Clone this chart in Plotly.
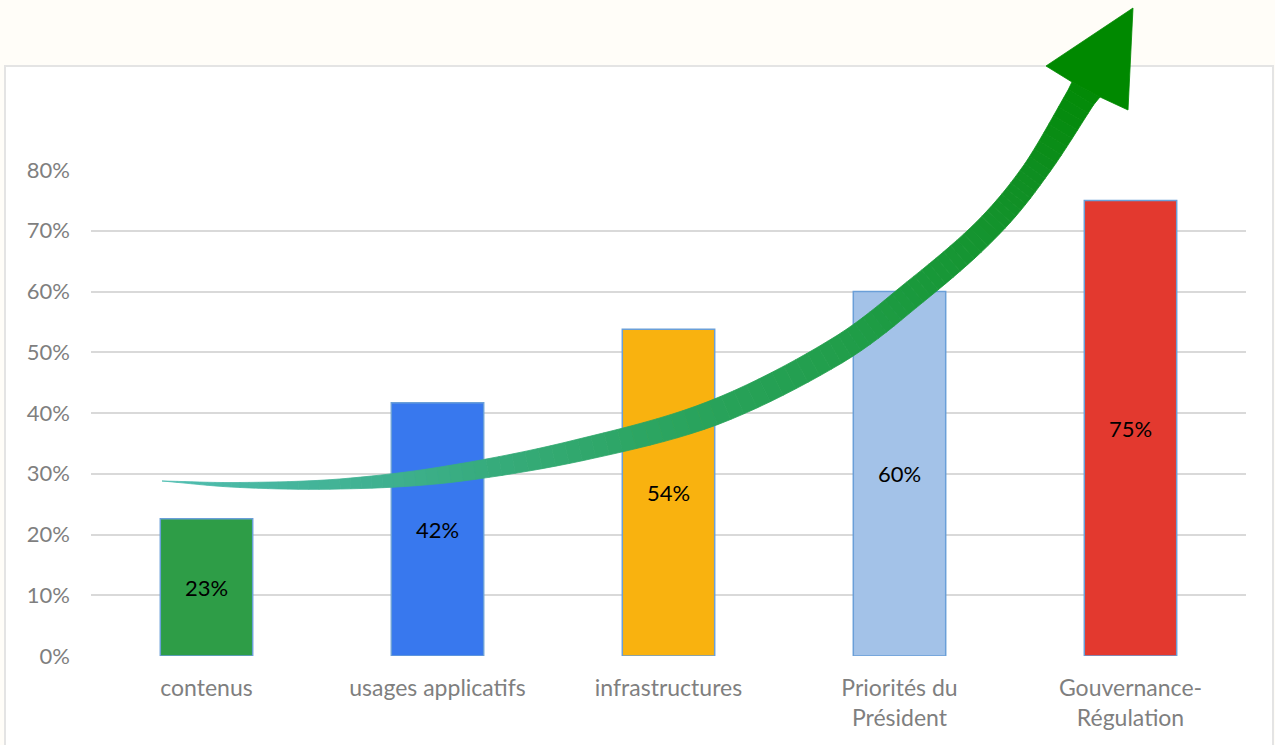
import numpy as np
import plotly.graph_objects as go

# ---------------- data ----------------
categories = ["contenus", "usages applicatifs", "infrastructures",
              "Priorités du<br>Président", "Gouvernance-<br>Régulation"]
values = [0.226, 0.417, 0.538, 0.600, 0.750]
value_labels = ["23%", "42%", "54%", "60%", "75%"]
bar_colors = ["#2E9D47", "#3878EE", "#F9B20F", "#A3C2E8", "#E3392F"]
y_tick_vals = [0.0, 0.1, 0.2, 0.3, 0.4, 0.5, 0.6, 0.7, 0.8]
y_tick_text = ["0%", "10%", "20%", "30%", "40%", "50%", "60%", "70%", "80%"]

# ---------------- geometry helpers (decoration only) ----------------
W, H = 1275, 745


def P(x, y):
    return x / W, 1 - y / H


FONT = "Lato, 'Open Sans', sans-serif"

fig = go.Figure()
fig.add_trace(go.Bar(
    x=categories, y=values, text=value_labels,
    textposition="inside", insidetextanchor="middle",
    textfont=dict(family=FONT, size=22, color="#000000"),
    marker=dict(color=bar_colors, line=dict(color="#6A9FD8", width=1.5)),
    hoverinfo="skip", showlegend=False,
))

shapes = []
# white panel with light border
x0, y0 = P(5, 66)
x1, y1 = P(1273, 746)
shapes.append(dict(type="rect", xref="paper", yref="paper", x0=x0, y0=y1, x1=x1, y1=y0,
                   fillcolor="#FFFFFF", line=dict(color="#E4E4E4", width=2), layer="below"))

# ---------- curved arrow (decorative) ----------
ctrl = np.array([
    (162, 481), (240, 485), (340, 484), (450, 474), (580, 450), (713, 413),
    (835, 352), (915, 292), (985, 231), (1035, 171), (1086, 89)], dtype=float)
widths = np.array([0, 5, 10, 17, 22, 25, 26, 26, 25, 25, 30], dtype=float)

# Catmull-Rom sampling
pts = []
wts = []
ext = np.vstack([ctrl[0] * 2 - ctrl[1], ctrl, ctrl[-1] * 2 - ctrl[-2]])
n_sub = 10
for i in range(len(ctrl) - 1):
    p0, p1, p2, p3 = ext[i], ext[i + 1], ext[i + 2], ext[i + 3]
    for k in range(n_sub):
        t = k / n_sub
        t2, t3 = t * t, t * t * t
        pt = 0.5 * ((2 * p1) + (-p0 + p2) * t + (2 * p0 - 5 * p1 + 4 * p2 - p3) * t2
                    + (-p0 + 3 * p1 - 3 * p2 + p3) * t3)
        pts.append(pt)
        wts.append(widths[i] + (widths[i + 1] - widths[i]) * t)
pts.append(ctrl[-1])
wts.append(widths[-1])
pts = np.array(pts)
wts = np.array(wts)

tang = np.gradient(pts, axis=0)
tang /= np.linalg.norm(tang, axis=1)[:, None]
norm = np.stack([-tang[:, 1], tang[:, 0]], axis=1)
left = pts + norm * wts[:, None] / 2
right = pts - norm * wts[:, None] / 2

neck_a = np.array([1072.0, 82.0])
neck_b = np.array([1100.0, 97.0])
if np.linalg.norm(left[-1] - neck_a) < np.linalg.norm(left[-1] - neck_b):
    left[-1], right[-1] = neck_a, neck_b
else:
    left[-1], right[-1] = neck_b, neck_a

stops = [(0.0, (80, 190, 178)), (0.25, (62, 176, 142)), (0.45, (44, 165, 98)),
         (0.7, (26, 153, 60)), (0.9, (14, 142, 32)), (1.0, (2, 138, 6))]


def color_at(f):
    for (fa, ca), (fb, cb) in zip(stops[:-1], stops[1:]):
        if fa <= f <= fb:
            u = (f - fa) / (fb - fa) if fb > fa else 0
            c = [int(round(ca[j] + (cb[j] - ca[j]) * u)) for j in range(3)]
            return "rgb(%d,%d,%d)" % tuple(c)
    return "rgb(%d,%d,%d)" % stops[-1][1]


def path_of(poly):
    s = ""
    for i, (px_, py_) in enumerate(poly):
        xx, yy = P(px_, py_)
        s += ("M" if i == 0 else "L") + "%.5f,%.5f " % (xx, yy)
    return s + "Z"


nseg = len(pts) - 1
for j in range(nseg):
    f = (j + 0.5) / nseg
    col = color_at(f)
    poly = [left[j], left[j + 1], right[j + 1], right[j]]
    shapes.append(dict(type="path", xref="paper", yref="paper", path=path_of(poly),
                       fillcolor=col, line=dict(color=col, width=0.8), layer="above"))

head = [(1046, 66), (1133, 8), (1128, 110), (1100, 97), (1072, 82)]
shapes.append(dict(type="path", xref="paper", yref="paper", path=path_of(head),
                   fillcolor="rgb(0,137,0)", line=dict(color="rgb(0,137,0)", width=0.8),
                   layer="above"))

fig.update_layout(
    width=W, height=H,
    margin=dict(l=0, r=0, t=0, b=0),
    paper_bgcolor="#FFFDF8",
    plot_bgcolor="rgba(0,0,0,0)",
    bargap=0.6,
    shapes=shapes,
    font=dict(family=FONT),
    xaxis=dict(domain=[91 / W, 1246 / W], showgrid=False, zeroline=False,
               showline=False, ticks="", automargin=False,
               tickfont=dict(family=FONT, size=23, color="#7F7F7F"),
               ticklabelstandoff=16, fixedrange=True),
    yaxis=dict(domain=[1 - 656 / H, 1 - 170 / H], range=[0, 0.8],
               tickvals=y_tick_vals, ticktext=y_tick_text,
               showgrid=True, gridcolor="#D9D9D9", gridwidth=2,
               zeroline=False, showline=False, ticks="", automargin=False,
               tickfont=dict(family=FONT, size=22, color="#7F7F7F"),
               ticklabelstandoff=20, fixedrange=True),
)

fig.write_html("out.html", config={"displayModeBar": False},
               post_script="document.body.style.margin='0';"
                           "document.body.style.background='#FFFDF8';")
